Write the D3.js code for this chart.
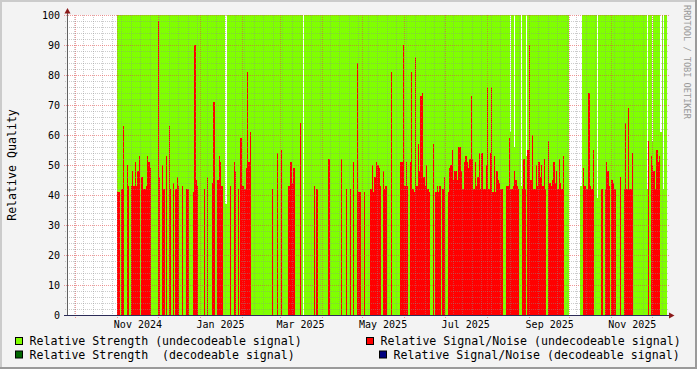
<!DOCTYPE html>
<html>
<head>
<meta charset="utf-8">
<script src="https://cdn.jsdelivr.net/npm/d3@7"></script>
<style>
  body { margin: 0; background: #f3f3f3; }
  svg { display: block; }
</style>
</head>
<body>
<div id="chart"></div>
<script>
/* ---------------------------------- */
/* DATA  (day = days after 2024-11-01) */
/* ---------------------------------- */
const firstDay = new Date(2024, 10, 1)
const viewStart = new Date(2024, 8, 25)
const viewEnd = new Date(2025, 11, 12)

// relative strength, undecodeable signal: [fromDay, toDay, value]
const strengthRuns = [
  [0, 79, 100], [80, 80, 37], [81, 136, 100], [138, 289, 100], [290, 290, 61],
  [291, 292, 100], [293, 293, 56], [294, 297, 100], [298, 298, 43], [299, 301, 100],
  [302, 302, 53], [303, 333, 100], [342, 342, 43], [343, 353, 100], [354, 354, 39],
  [355, 390, 100], [391, 391, 42], [392, 394, 100], [395, 395, 58], [396, 400, 100],
  [401, 401, 61], [402, 402, 100], [403, 403, 42], [404, 405, 100]
]

// relative signal/noise, undecodeable signal: [day, value]
const snUndecodeable = [
  [0,41],[1,41],[3,42],[4,63],[7,50],[8,43],[10,43],[11,48],[12,43],[13,51],[14,43],[15,48],
  [16,53],[18,46],[19,42],[20,42],[21,43],[22,53],[23,51],[24,49],[30,98],[31,46],[33,50],
  [34,42],[36,53],[38,63],[39,42],[41,44],[43,42],[44,46],[45,43],[48,43],[51,42],[52,42],
  [56,41],[57,90],[58,45],[59,43],[64,42],[66,46],[70,44],[71,71],[74,45],[75,53],[76,51],
  [77,43],[83,43],[86,51],[87,48],[89,42],[91,59],[92,43],[93,43],[94,42],[95,49],[96,81],
  [97,51],[98,61],[114,42],[118,54],[121,55],[126,43],[127,43],[128,51],[129,44],[130,49],
  [135,64],[145,43],[147,42],[156,52],[165,52],[169,42],[172,42],[174,51],[177,84],[178,41],
  [179,41],[182,41],[187,42],[188,50],[189,41],[190,46],[191,51],[192,50],[193,49],[194,43],
  [196,48],[197,42],[198,43],[202,81],[209,51],[210,51],[211,90],[212,43],[213,51],[214,43],
  [216,51],[217,81],[218,42],[219,41],[220,86],[221,43],[222,57],[223,48],[224,73],[225,74],
  [226,46],[227,43],[228,50],[229,42],[230,41],[233,57],[235,41],[236,43],[237,41],[238,43],
  [240,42],[241,46],[244,41],[245,49],[246,50],[247,55],[248,45],[249,48],[250,48],[251,45],
  [252,56],[253,56],[254,48],[255,42],[256,51],[257,53],[258,51],[259,49],[260,52],[261,73],
  [262,52],[263,42],[264,51],[265,43],[266,46],[267,54],[268,42],[269,54],[270,42],[271,42],
  [272,50],[273,76],[274,42],[275,54],[276,76],[277,41],[278,53],[279,41],[280,48],[281,45],
  [282,44],[283,42],[284,42],[287,43],[288,43],[289,59],[290,42],[291,42],[292,43],[293,48],
  [294,45],[295,43],[296,42],[299,42],[300,52],[301,42],[303,55],[304,90],[305,45],[306,60],
  [307,42],[308,42],[309,50],[310,43],[311,51],[312,46],[313,50],[314,43],[315,52],[316,42],
  [318,58],[319,44],[320,43],[321,45],[322,51],[323,44],[324,48],[325,42],[326,52],[327,44],
  [328,42],[329,53],[344,49],[345,43],[346,42],[347,42],[348,74],[349,43],[350,42],[351,55],
  [357,42],[358,42],[360,42],[361,51],[362,48],[363,43],[365,45],[366,44],[367,42],[371,46],
  [374,42],[375,64],[376,42],[377,69],[378,42],[379,42],[380,54],[392,58],[394,53],[395,50],
  [396,48],[397,42],[398,55],[399,51],[400,53]
]

// decodeable signal: nothing recorded in this period
const strengthDecodeable = []
const snDecodeable = []

const yTicks = [0, 10, 20, 30, 40, 50, 60, 70, 80, 90, 100]
const xLabels = ["Nov 2024", "Jan 2025", "Mar 2025", "May 2025", "Jul 2025", "Sep 2025", "Nov 2025"]

const legendItems = [
  { label: "Relative Strength (undecodeable signal)", color: "#80ff00", x: 15, row: 0 },
  { label: "Relative Signal/Noise (undecodeable signal)", color: "#ff0000", x: 366, row: 0 },
  { label: "Relative Strength  (decodeable signal)", color: "#006600", x: 15, row: 1 },
  { label: "Relative Signal/Noise (decodeable signal)", color: "#000080", x: 379, row: 1 }
]

/* ---------------------------------- */
/* SVG                                */
/* ---------------------------------- */
const anchoTotal = 697
const altoTotal = 369
const mono = "'DejaVu Sans Mono', monospace"

const svg = d3.select("#chart")
  .append("svg")
  .attr("width", anchoTotal)
  .attr("height", altoTotal)

svg.append("rect")
  .attr("width", anchoTotal)
  .attr("height", altoTotal)
  .attr("fill", "#f3f3f3")

// shaded frame
svg.append("path")
  .attr("d", `M0,0H${anchoTotal}V2H2V${altoTotal}H0Z`)
  .attr("fill", "#cbcbcb")
svg.append("path")
  .attr("d", `M${anchoTotal},${altoTotal}H0V${altoTotal - 2}H${anchoTotal - 2}V0H${anchoTotal}Z`)
  .attr("fill", "#9a9a9a")

const x = d3.scaleTime().domain([viewStart, viewEnd]).range([67, 667])
const y = d3.scaleLinear().domain([0, 100]).range([315, 15])

svg.append("rect")
  .attr("x", 67).attr("y", 15)
  .attr("width", 600).attr("height", 300)
  .attr("fill", "#ffffff")

const dayDate = (d) => d3.timeDay.offset(firstDay, d)

// expand runs to one bar per day
const strengthDays = []
strengthRuns.forEach(([a, b, v]) => {
  for (let d = a; d <= b; d++) strengthDays.push([d, v])
})

const drawBars = (data, color) => {
  svg.append("g")
    .attr("shape-rendering", "crispEdges")
    .selectAll("rect")
    .data(data)
    .join("rect")
    .attr("x", (d) => Math.round(x(dayDate(d[0]))))
    .attr("width", (d) => Math.round(x(dayDate(d[0] + 1))) - Math.round(x(dayDate(d[0]))))
    .attr("y", (d) => Math.round(y(d[1])))
    .attr("height", (d) => y(0) - Math.round(y(d[1])))
    .attr("fill", color)
}

drawBars(strengthDays, "#80ff00")
drawBars(snUndecodeable, "#ff0000")
drawBars(strengthDecodeable, "#006600")
drawBars(snDecodeable, "#000080")

/* ---------------------------------- */
/* GRID                               */
/* ---------------------------------- */
const grid = svg.append("g").attr("shape-rendering", "crispEdges")
const minorCol = "rgba(143,143,143,0.45)"
const majorCol = "rgba(230,70,70,0.55)"

const weeks = d3.timeMonday.range(viewStart, viewEnd)
const months = d3.timeMonth.range(viewStart, viewEnd)

grid.selectAll(".vmin")
  .data(weeks)
  .join("line")
  .attr("x1", (d) => Math.round(x(d)) + 0.5).attr("x2", (d) => Math.round(x(d)) + 0.5)
  .attr("y1", 15).attr("y2", 317)
  .attr("stroke", minorCol).attr("stroke-dasharray", "1,1")

grid.selectAll(".vmaj")
  .data(months)
  .join("line")
  .attr("x1", (d) => Math.round(x(d)) + 0.5).attr("x2", (d) => Math.round(x(d)) + 0.5)
  .attr("y1", 15).attr("y2", 318)
  .attr("stroke", majorCol).attr("stroke-dasharray", "1,1")

const minorY = d3.range(0, 101, 2).filter((v) => v % 10 !== 0)
grid.selectAll(".hmin")
  .data(minorY)
  .join("line")
  .attr("x1", 65).attr("x2", 669)
  .attr("y1", (d) => y(d) + 0.5).attr("y2", (d) => y(d) + 0.5)
  .attr("stroke", minorCol).attr("stroke-dasharray", "1,1")

grid.selectAll(".hmaj")
  .data(yTicks)
  .join("line")
  .attr("x1", 64).attr("x2", 670)
  .attr("y1", (d) => y(d) + 0.5).attr("y2", (d) => y(d) + 0.5)
  .attr("stroke", majorCol).attr("stroke-dasharray", "1,1")

/* ---------------------------------- */
/* AXES                               */
/* ---------------------------------- */
const yAxis = d3.axisLeft(y).tickValues(yTicks).tickSize(0).tickPadding(7)
svg.append("g")
  .attr("transform", "translate(67,0)")
  .call(yAxis)
  .call((g) => g.select(".domain").remove())
  .selectAll("text")
  .attr("font-family", mono).attr("font-size", "10px").attr("fill", "#000")

const parseLbl = d3.timeParse("%b %Y")
const labelDates = xLabels.map((s) => d3.timeDay.offset(parseLbl(s), 15))
const xAxis = d3.axisBottom(x).tickValues(labelDates).tickFormat((d, i) => xLabels[i]).tickSize(0).tickPadding(6)
svg.append("g")
  .attr("transform", "translate(0,315)")
  .call(xAxis)
  .call((g) => g.select(".domain").remove())
  .selectAll("text")
  .attr("font-family", mono).attr("font-size", "10px").attr("fill", "#000")

svg.append("line")
  .attr("x1", 67.5).attr("x2", 67.5).attr("y1", 316).attr("y2", 11)
  .attr("stroke", "#606060")
svg.append("line")
  .attr("x1", 64).attr("x2", 670).attr("y1", 315.5).attr("y2", 315.5)
  .attr("stroke", "#2c2c58")
svg.append("path")
  .attr("d", "M64.5,13.5L67.5,8L70.5,13.5Z")
  .attr("fill", "#8b1a1a")
svg.append("path")
  .attr("d", "M669,312.5L674.5,315.5L669,318.5Z")
  .attr("fill", "#8b1a1a")

/* ---------------------------------- */
/* TITLES & LEGEND                    */
/* ---------------------------------- */
svg.append("text")
  .attr("transform", "translate(16,165) rotate(-90)")
  .attr("text-anchor", "middle")
  .attr("font-family", mono).attr("font-size", "11.6px")
  .text("Relative Quality")

svg.append("text")
  .attr("transform", "translate(684,5) rotate(90)")
  .attr("font-family", mono).attr("font-size", "8.6px")
  .attr("fill", "#999999")
  .text("RRDTOOL / TOBI OETIKER")

const leg = svg.append("g").selectAll("g").data(legendItems).join("g")
leg.append("rect")
  .attr("x", (d) => d.x + 0.5).attr("y", (d) => 337.5 + d.row * 13.5)
  .attr("width", 7).attr("height", 7)
  .attr("fill", (d) => d.color).attr("stroke", "#000")
leg.append("text")
  .attr("x", (d) => d.x + 14.5).attr("y", (d) => 345 + d.row * 13.5)
  .attr("font-family", mono).attr("font-size", "11.6px")
  .attr("xml:space", "preserve").style("white-space", "pre")
  .text((d) => d.label)
</script>
</body>
</html>
